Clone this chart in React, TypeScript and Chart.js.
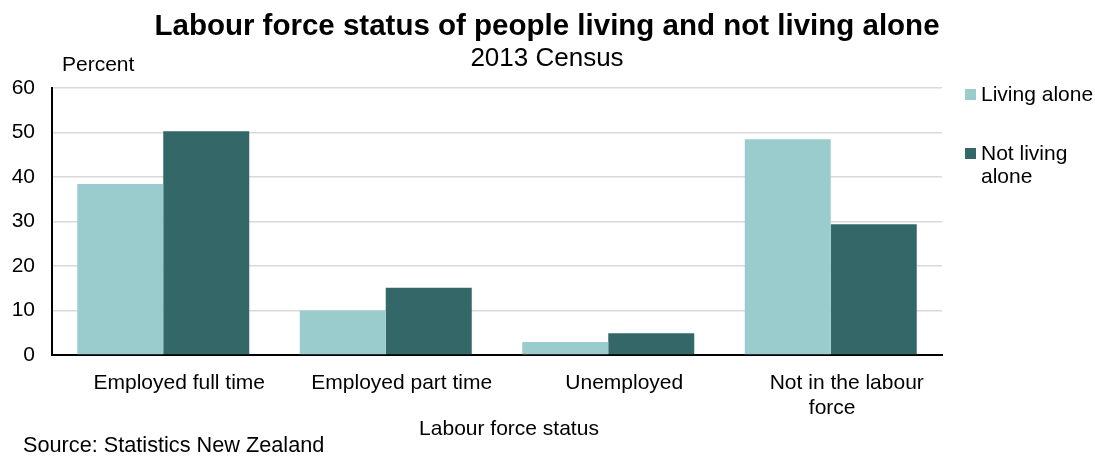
import React, { useEffect, useRef } from "react";
import { Chart, registerables } from "chart.js";

Chart.register(...registerables);

const categories: (string | string[])[] = [
  "Employed full time",
  "Employed part time",
  "Unemployed",
  ["Not in the labour", "force     "],
];
const seriesNames = ["Living alone", "Not living alone"];
const legendLines = [["Living alone"], ["Not living", "alone"]];
const livingAlone = [38.4, 10.0, 2.9, 48.5];
const notLivingAlone = [50.3, 15.1, 4.9, 29.4];
const yTicks = [0, 10, 20, 30, 40, 50, 60];
const colors = ["#9ACCCD", "#346767"];

const titleText = "Labour force status of people living and not living alone";
const subtitleText = "2013 Census";
const yUnitText = "Percent";
const xTitleText = "Labour force status";
const sourceText = "Source: Statistics New Zealand";

const FONT = "Arial, 'Liberation Sans', sans-serif";

export default function App() {
  const ref = useRef<HTMLCanvasElement | null>(null);

  useEffect(() => {
    document.body.style.margin = "0";
    const canvas = ref.current;
    if (!canvas) return;

    const textPlugin = {
      id: "customText",
      afterDraw(chart: any) {
        const ctx = chart.ctx as CanvasRenderingContext2D;
        ctx.save();
        ctx.fillStyle = "#000";
        ctx.textBaseline = "alphabetic";
        // title
        ctx.font = `bold 29.5px ${FONT}`;
        ctx.textAlign = "center";
        ctx.fillText(titleText, 547, 35);
        ctx.font = `26px ${FONT}`;
        ctx.fillText(subtitleText, 547, 66);
        // y unit
        ctx.font = `21px ${FONT}`;
        ctx.textAlign = "left";
        ctx.fillText(yUnitText, 62, 71);
        // x title
        ctx.textAlign = "center";
        ctx.fillText(xTitleText, 509, 435);
        // source
        ctx.font = `21.7px ${FONT}`;
        ctx.textAlign = "left";
        ctx.fillText(sourceText, 23, 452);
        // legend
        const legendY = [94, 153];
        chart.data.datasets.forEach((ds: any, i: number) => {
          ctx.fillStyle = ds.backgroundColor;
          ctx.fillRect(965, legendY[i] - 5, 11, 11);
          ctx.fillStyle = "#000";
          ctx.font = `21px ${FONT}`;
          legendLines[i].forEach((line, j) => {
            ctx.fillText(line, 981, legendY[i] + 7 + j * 23);
          });
        });
        ctx.restore();
      },
    };

    const chart = new Chart(canvas, {
      type: "bar",
      data: {
        labels: categories,
        datasets: [
          {
            label: seriesNames[0],
            data: livingAlone,
            backgroundColor: colors[0],
            categoryPercentage: 0.773,
            barPercentage: 1,
          },
          {
            label: seriesNames[1],
            data: notLivingAlone,
            backgroundColor: colors[1],
            categoryPercentage: 0.773,
            barPercentage: 1,
          },
        ],
      },
      options: {
        responsive: false,
        animation: false,
        layout: { padding: { top: 88, right: 153, bottom: 0, left: 0 } },
        plugins: {
          legend: { display: false },
          title: { display: false },
          tooltip: { enabled: false },
        },
        scales: {
          x: {
            grid: { display: false, drawTicks: false },
            border: { display: true, color: "#000", width: 2 },
            ticks: {
              color: "#000",
              padding: 16,
              labelOffset: 16,
              maxRotation: 0,
              autoSkip: false,
              font: { family: FONT, size: 21, lineHeight: 1.19 },
            },
            afterFit(scale: any) {
              scale.height = 104;
            },
          },
          y: {
            min: 0,
            max: 60,
            afterBuildTicks(scale: any) {
              scale.ticks = yTicks.map((v) => ({ value: v }));
            },
            grid: { color: "#D9D9D9", lineWidth: 1.5, drawTicks: false },
            border: { display: true, color: "#000", width: 2 },
            ticks: {
              color: "#000",
              padding: 17,
              font: { family: FONT, size: 21 },
            },
            afterFit(scale: any) {
              scale.width = 52;
            },
          },
        },
      },
      plugins: [textPlugin],
    });

    return () => chart.destroy();
  }, []);

  return (
    <div style={{ width: 1095, height: 459 }}>
      <canvas ref={ref} width={1095} height={459} />
    </div>
  );
}
